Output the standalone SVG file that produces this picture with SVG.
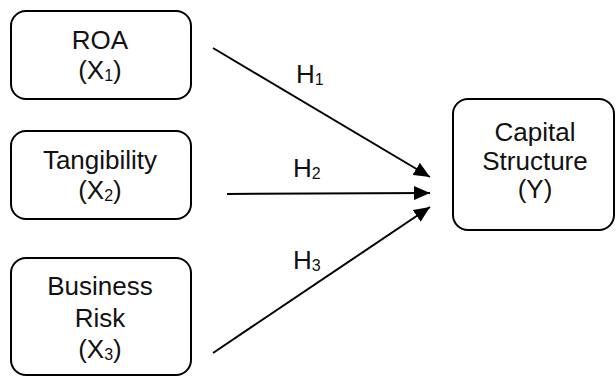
<svg xmlns="http://www.w3.org/2000/svg" width="616" height="376" viewBox="0 0 616 376">
<defs>
<style>
.box{fill:#fff;stroke:#000;stroke-width:2}
.t{font-family:"Liberation Sans",Arial,sans-serif;font-size:26px;fill:#111;text-anchor:middle}
.h{font-family:"Liberation Sans",Arial,sans-serif;font-size:26px;fill:#111}
.sub{font-size:16px}
.ln{stroke:#000;stroke-width:2;fill:none;marker-end:url(#ah)}
</style>
<marker id="ah" viewBox="0 0 16 14" refX="16" refY="7" markerWidth="16" markerHeight="14" markerUnits="userSpaceOnUse" orient="auto">
<path d="M0,0 L16,7 L0,14 Z" fill="#000"/>
</marker>
</defs>
<g id="roa">
<rect class="box" x="11" y="11" width="180" height="88" rx="15"/>
<text class="t" x="100" y="49">ROA</text>
<text class="t" x="100" y="79">(X<tspan class="sub" dy="2">1</tspan><tspan dy="-2">)</tspan></text>
</g>
<g id="tangibility">
<rect class="box" x="11" y="131" width="180" height="88" rx="15"/>
<text class="t" x="100" y="169">Tangibility</text>
<text class="t" x="100" y="199">(X<tspan class="sub" dy="2">2</tspan><tspan dy="-2">)</tspan></text>
</g>
<g id="business-risk">
<rect class="box" x="11" y="258" width="180" height="117" rx="15"/>
<text class="t" x="100" y="295">Business</text>
<text class="t" x="100" y="327">Risk</text>
<text class="t" x="100" y="358">(X<tspan class="sub" dy="2">3</tspan><tspan dy="-2">)</tspan></text>
</g>
<g id="capital-structure">
<rect class="box" x="453" y="99" width="161" height="131" rx="15"/>
<text class="t" x="535" y="141">Capital</text>
<text class="t" x="535" y="170">Structure</text>
<text class="t" x="535" y="198">(Y)</text>
</g>
<g id="connectors">
<line class="ln" x1="213" y1="48" x2="430" y2="177"/>
<line class="ln" x1="227" y1="194" x2="430" y2="193"/>
<line class="ln" x1="213" y1="353" x2="430" y2="207"/>
<text class="h" x="296" y="83">H<tspan class="sub" dy="2">1</tspan></text>
<text class="h" x="293" y="177">H<tspan class="sub" dy="2">2</tspan></text>
<text class="h" x="293" y="269">H<tspan class="sub" dy="2">3</tspan></text>
</g>
</svg>
